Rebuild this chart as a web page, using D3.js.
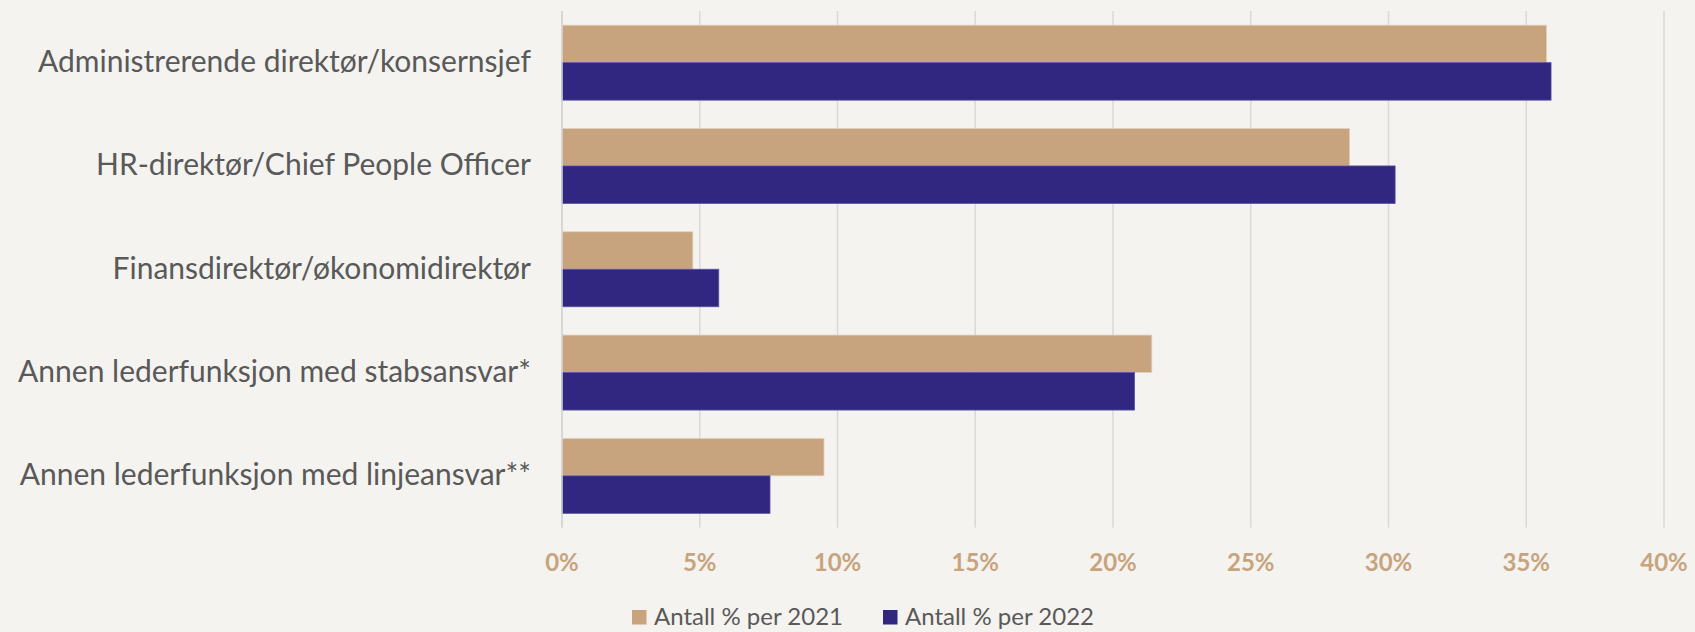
<!DOCTYPE html>
<html>
<head>
<meta charset="utf-8">
<script src="https://cdn.jsdelivr.net/npm/d3@7"></script>
<style>
  html, body { margin: 0; padding: 0; background: #f4f3ef; }
  svg { display: block; }
</style>
</head>
<body>
<svg id="chart" width="1695" height="632"></svg>
<script>
const categories = [
  "Administrerende direktør/konsernsjef",
  "HR-direktør/Chief People Officer",
  "Finansdirektør/økonomidirektør",
  "Annen lederfunksjon med stabsansvar*",
  "Annen lederfunksjon med linjeansvar**"
];
const values2021 = [35.74, 28.59, 4.75, 21.41, 9.51];
const values2022 = [35.90, 30.24, 5.69, 20.78, 7.55];
const seriesNames = ["Antall % per 2021", "Antall % per 2022"];
const tickValues = [0, 5, 10, 15, 20, 25, 30, 35, 40];

const colors = ["#c7a47e", "#312680"];
const W = 1695, H = 632;
const svg = d3.select("#chart");
svg.append("rect").attr("width", W).attr("height", H).attr("fill", "#f4f3ef");

const x = d3.scaleLinear().domain([0, 40]).range([562, 1664]);
const y = d3.scaleBand().domain(categories).range([11, 527.5]).paddingInner(0.274).paddingOuter(0.137);
const sub = d3.scaleBand().domain([0, 1]).range([0, y.bandwidth()]);

// gridlines
svg.append("g").selectAll("line").data(tickValues).join("line")
  .attr("x1", d => x(d)).attr("x2", d => x(d))
  .attr("y1", 11).attr("y2", 527.5)
  .attr("stroke", "#d9d9d9").attr("stroke-width", 1.5);

// bars
const series = [values2021, values2022];
series.forEach((vals, si) => {
  svg.append("g").selectAll("rect").data(vals).join("rect")
    .attr("x", x(0))
    .attr("y", (d, i) => y(categories[i]) + sub(si))
    .attr("width", d => x(d) - x(0))
    .attr("height", sub.bandwidth())
    .attr("fill", colors[si])
    .attr("stroke", si === 0 ? "#e2d2c0" : "#5a50a0")
    .attr("stroke-width", 0.8);
});

// axis line at 0
svg.append("line").attr("x1", x(0)).attr("x2", x(0)).attr("y1", 11).attr("y2", 527.5)
  .attr("stroke", "#d4d4d4").attr("stroke-width", 1.5);

// category labels
svg.append("g").selectAll("text").data(categories).join("text")
  .attr("x", 531)
  .attr("y", d => y(d) + y.bandwidth() / 2 + 9.5)
  .attr("text-anchor", "end")
  .attr("font-family", "Lato, 'Open Sans', sans-serif")
  .attr("font-size", 30)
  .attr("fill", "#595959")
  .text(d => d);

// x tick labels
svg.append("g").selectAll("text").data(tickValues).join("text")
  .attr("x", d => x(d))
  .attr("y", 570.5)
  .attr("text-anchor", "middle")
  .attr("font-family", "Lato, 'Open Sans', sans-serif")
  .attr("font-weight", "bold")
  .attr("font-size", 24)
  .attr("fill", "#c7a47e")
  .text(d => d + "%");

// legend
const lg = svg.append("g");
let lx = 632;
seriesNames.forEach((name, i) => {
  lg.append("rect").attr("x", lx).attr("y", 610).attr("width", 14.5).attr("height", 14.5)
    .attr("fill", colors[i]);
  const t = lg.append("text").attr("x", lx + 22).attr("y", 624.5)
    .attr("font-family", "Lato, 'Open Sans', sans-serif")
    .attr("font-size", 24)
    .attr("fill", "#595959")
    .text(name);
  lx = lx + 22 + t.node().getComputedTextLength() + 40;
});
</script>
</body>
</html>
